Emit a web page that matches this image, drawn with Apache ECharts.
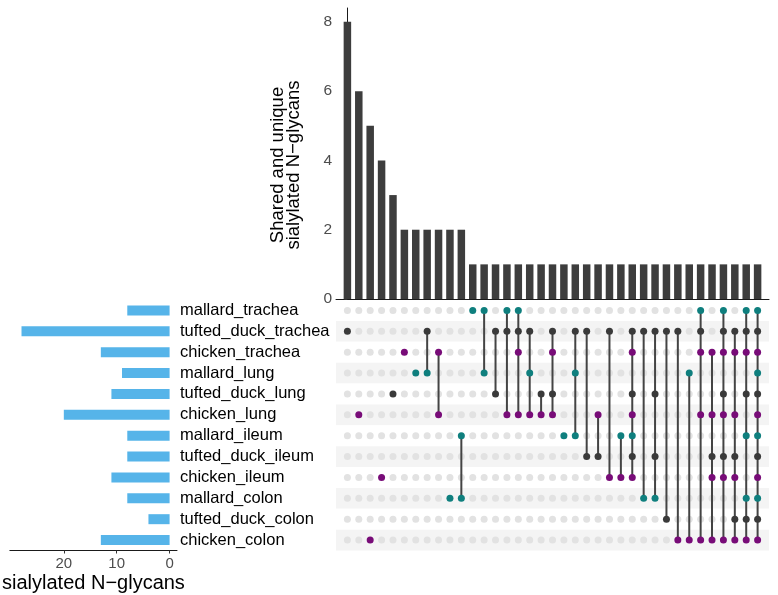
<!DOCTYPE html>
<html>
<head>
<meta charset="utf-8">
<title>Shared and unique sialylated N-glycans</title>
<script src="https://cdn.jsdelivr.net/npm/echarts@6/dist/echarts.min.js"></script>
<style>
  html, body { margin: 0; padding: 0; background: #fff; }
  #upset { width: 778px; height: 595px; }
</style>
</head>
<body>
<div id="upset"></div>
<script>
// sets, listed top to bottom as in the matrix
var setNames = [
  'mallard_trachea', 'tufted_duck_trachea', 'chicken_trachea',
  'mallard_lung', 'tufted_duck_lung', 'chicken_lung',
  'mallard_ileum', 'tufted_duck_ileum', 'chicken_ileum',
  'mallard_colon', 'tufted_duck_colon', 'chicken_colon'
]
var setSizes = [8, 28, 13, 9, 11, 20, 8, 8, 11, 8, 4, 13]

// one entry per intersection column, left to right
var intersectionSizes = [
  8, 6, 5, 4, 3, 2, 2, 2, 2, 2, 2,
  1, 1, 1, 1, 1, 1, 1, 1, 1, 1, 1, 1, 1,
  1, 1, 1, 1, 1, 1, 1, 1, 1, 1, 1, 1, 1
]
var intersectionSets = [
  ['tufted_duck_trachea'],
  ['chicken_lung'],
  ['chicken_colon'],
  ['chicken_ileum'],
  ['tufted_duck_lung'],
  ['chicken_trachea'],
  ['mallard_lung'],
  ['tufted_duck_trachea', 'mallard_lung'],
  ['chicken_trachea', 'chicken_lung'],
  ['mallard_colon'],
  ['mallard_ileum', 'mallard_colon'],
  ['mallard_trachea'],
  ['mallard_trachea', 'mallard_lung'],
  ['tufted_duck_trachea', 'tufted_duck_lung'],
  ['mallard_trachea', 'tufted_duck_trachea', 'chicken_lung'],
  ['mallard_trachea', 'tufted_duck_trachea', 'chicken_trachea', 'chicken_lung'],
  ['tufted_duck_trachea', 'mallard_lung', 'chicken_lung'],
  ['tufted_duck_lung', 'chicken_lung'],
  ['tufted_duck_trachea', 'chicken_trachea', 'tufted_duck_lung', 'chicken_lung'],
  ['mallard_ileum'],
  ['tufted_duck_trachea', 'mallard_lung', 'mallard_ileum'],
  ['tufted_duck_trachea', 'tufted_duck_ileum'],
  ['chicken_lung', 'tufted_duck_ileum'],
  ['tufted_duck_trachea', 'chicken_ileum'],
  ['mallard_ileum', 'chicken_ileum'],
  ['tufted_duck_trachea', 'chicken_trachea', 'tufted_duck_lung', 'chicken_lung',
    'mallard_ileum', 'tufted_duck_ileum', 'chicken_ileum'],
  ['tufted_duck_trachea', 'mallard_colon'],
  ['tufted_duck_trachea', 'tufted_duck_lung', 'tufted_duck_ileum', 'mallard_colon'],
  ['tufted_duck_trachea', 'tufted_duck_colon'],
  ['tufted_duck_trachea', 'chicken_colon'],
  ['mallard_lung', 'chicken_colon'],
  ['mallard_trachea', 'tufted_duck_trachea', 'chicken_trachea', 'chicken_lung', 'chicken_colon'],
  ['chicken_trachea', 'chicken_lung', 'tufted_duck_ileum', 'chicken_ileum', 'chicken_colon'],
  ['mallard_trachea', 'tufted_duck_trachea', 'chicken_trachea', 'tufted_duck_lung',
    'chicken_lung', 'tufted_duck_ileum', 'chicken_ileum', 'chicken_colon'],
  ['tufted_duck_trachea', 'chicken_trachea', 'chicken_lung', 'tufted_duck_ileum',
    'chicken_ileum', 'tufted_duck_colon', 'chicken_colon'],
  ['mallard_trachea', 'tufted_duck_trachea', 'chicken_trachea', 'tufted_duck_lung',
    'mallard_ileum', 'mallard_colon', 'tufted_duck_colon', 'chicken_colon'],
  setNames.slice()
]

var sizeTicks = [0, 2, 4, 6, 8]
var setSizeTicks = [0, 10, 20]

var speciesColors = {
  mallard: '#0f7f7e',
  tufted_duck: '#3a3a3a',
  chicken: '#780c78'
}
var font = '"Liberation Sans", Arial, Helvetica, sans-serif'

function speciesColor (name) {
  if (name.indexOf('tufted_duck') === 0) return speciesColors.tufted_duck
  if (name.indexOf('mallard') === 0) return speciesColors.mallard
  return speciesColors.chicken
}

var barData = intersectionSizes.map(function (v, i) { return [i, v] })
var emptyDots = []
var activeDots = []
var connectors = []
intersectionSets.forEach(function (members, col) {
  var rows = []
  setNames.forEach(function (name, row) {
    if (members.indexOf(name) >= 0) {
      rows.push(row)
      activeDots.push({ value: [col, row], itemStyle: { color: speciesColor(name) } })
    } else {
      emptyDots.push([col, row])
    }
  })
  if (rows.length > 1) {
    connectors.push([col, Math.min.apply(null, rows), Math.max.apply(null, rows)])
  }
})

var axisBlack = { lineStyle: { color: '#1a1a1a', width: 1 } }

var option = {
  backgroundColor: '#fff',
  animation: false,
  textStyle: { fontFamily: font },
  grid: [
    { left: 336, top: 8, width: 433, height: 291 },
    { left: 336, top: 300, width: 433, height: 250.5 },
    { left: 7, top: 300, width: 170, height: 250.5 }
  ],
  xAxis: [
    {
      gridIndex: 0,
      type: 'value',
      min: -1,
      max: 37,
      axisLine: axisBlack,
      axisTick: { show: false },
      axisLabel: { show: false },
      splitLine: { show: false }
    },
    {
      gridIndex: 1,
      type: 'value',
      min: -1,
      max: 37,
      show: false
    },
    {
      gridIndex: 2,
      type: 'value',
      inverse: true,
      min: -1.4,
      max: 30.2,
      axisLine: { show: true, lineStyle: { color: '#1a1a1a', width: 1 } },
      axisTick: { show: true, length: 3, lineStyle: { color: '#333' }, customValues: setSizeTicks },
      axisLabel: { color: '#4d4d4d', fontSize: 15, margin: 6, fontFamily: font, customValues: setSizeTicks },
      splitLine: { show: false },
      name: 'sialylated N\u2212glycans',
      nameLocation: 'middle',
      nameGap: 23,
      nameTextStyle: { color: '#000', fontSize: 20, fontFamily: font }
    }
  ],
  yAxis: [
    {
      gridIndex: 0,
      type: 'value',
      min: 0,
      max: 8.4,
      axisLine: { show: true, lineStyle: { color: '#1a1a1a', width: 1 } },
      axisTick: { show: true, length: 3, lineStyle: { color: '#333' }, customValues: sizeTicks },
      axisLabel: { color: '#4d4d4d', fontSize: 15.5, margin: 4, fontFamily: font, customValues: sizeTicks },
      splitLine: { show: false },
      name: 'Shared and unique\nsialylated N\u2212glycans',
      nameLocation: 'middle',
      nameGap: 34,
      nameTextStyle: { color: '#000', fontSize: 18.5, lineHeight: 16, fontFamily: font, padding: [0, 23, 0, 0] }
    },
    {
      gridIndex: 1,
      type: 'category',
      inverse: true,
      data: setNames,
      axisLine: { show: false },
      axisTick: { show: false },
      axisLabel: { show: false },
      splitArea: { show: true, areaStyle: { color: ['#ffffff', '#f4f4f4'] } }
    },
    {
      gridIndex: 2,
      type: 'category',
      inverse: true,
      position: 'right',
      data: setNames,
      axisLine: { show: false },
      axisTick: { show: false },
      axisLabel: { color: '#000', fontSize: 16.5, margin: 3, interval: 0, fontFamily: font }
    }
  ],
  series: [
    {
      name: 'intersection size',
      type: 'bar',
      xAxisIndex: 0,
      yAxisIndex: 0,
      barWidth: 7.5,
      itemStyle: { color: '#3d3d3d' },
      data: barData
    },
    {
      name: 'empty',
      type: 'scatter',
      xAxisIndex: 1,
      yAxisIndex: 1,
      symbolSize: 7,
      itemStyle: { color: '#e2e2e2', opacity: 1 },
      z: 2,
      data: emptyDots
    },
    {
      name: 'connectors',
      type: 'custom',
      xAxisIndex: 1,
      yAxisIndex: 1,
      z: 3,
      encode: { x: 0, y: [1, 2] },
      renderItem: function (params, api) {
        var top = api.coord([api.value(0), api.value(1)])
        var bottom = api.coord([api.value(0), api.value(2)])
        return {
          type: 'line',
          shape: { x1: top[0], y1: top[1], x2: bottom[0], y2: bottom[1] },
          style: { stroke: '#444444', lineWidth: 2 }
        }
      },
      data: connectors
    },
    {
      name: 'members',
      type: 'scatter',
      xAxisIndex: 1,
      yAxisIndex: 1,
      symbolSize: 7,
      itemStyle: { opacity: 1 },
      z: 4,
      data: activeDots
    },
    {
      name: 'set size',
      type: 'bar',
      xAxisIndex: 2,
      yAxisIndex: 2,
      barWidth: 10,
      itemStyle: { color: '#56b4e9' },
      data: setSizes
    }
  ]
}

var chart = echarts.init(document.getElementById('upset'))
chart.setOption(option)
</script>
</body>
</html>
